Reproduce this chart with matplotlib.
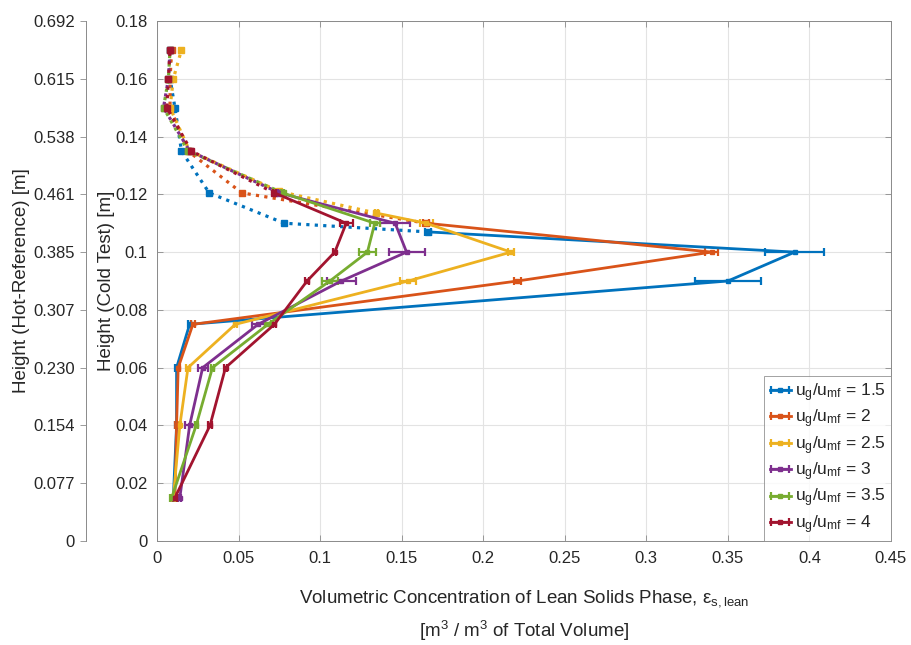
import matplotlib.pyplot as plt
import numpy as np

plt.rcParams['font.family'] = ['Liberation Sans', 'DejaVu Sans']
plt.rcParams['mathtext.fontset'] = 'custom'
plt.rcParams['mathtext.rm'] = 'Liberation Sans'
plt.rcParams['mathtext.it'] = 'Liberation Sans:italic'

ratios = ['1.5', '2', '2.5', '3', '3.5', '4']
colors = ['#0072BD', '#D95319', '#EDB120', '#7E2F8E', '#77AC30', '#A2142F']

# measured points in the bed (solid, with error bars)
bed_y = [
    [0.015, 0.040, 0.060, 0.075, 0.090, 0.100, 0.107],
    [0.015, 0.040, 0.060, 0.075, 0.090, 0.100, 0.110],
    [0.015, 0.040, 0.060, 0.075, 0.090, 0.100, 0.110, 0.1135],
    [0.015, 0.040, 0.060, 0.075, 0.090, 0.100, 0.110, 0.1205],
    [0.015, 0.040, 0.060, 0.075, 0.090, 0.100, 0.110, 0.1205],
    [0.015, 0.040, 0.060, 0.075, 0.090, 0.100, 0.110, 0.1205],
]
bed_x = [
    [0.010, 0.012, 0.012, 0.020, 0.350, 0.391, 0.166],
    [0.011, 0.012, 0.013, 0.022, 0.221, 0.340, 0.165],
    [0.010, 0.014, 0.019, 0.048, 0.154, 0.217, 0.165, 0.1345],
    [0.014, 0.020, 0.028, 0.062, 0.113, 0.153, 0.146, 0.075],
    [0.009, 0.024, 0.034, 0.068, 0.106, 0.129, 0.1335, 0.077],
    [0.011, 0.0325, 0.042, 0.072, 0.092, 0.109, 0.116, 0.072],
]
bed_err = [
    [0.001, 0.001, 0.001, 0.001, 0.020, 0.018, 0.002],
    [0.001, 0.001, 0.001, 0.001, 0.002, 0.004, 0.002],
    [0.001, 0.001, 0.001, 0.001, 0.005, 0.002, 0.004, 0.001],
    [0.001, 0.003, 0.003, 0.004, 0.009, 0.011, 0.009, 0.001],
    [0.001, 0.001, 0.001, 0.002, 0.005, 0.005, 0.003, 0.001],
    [0.001, 0.001, 0.001, 0.001, 0.001, 0.001, 0.004, 0.001],
]

# freeboard points (dotted)
free_y = [
    [0.107, 0.110, 0.1205, 0.135, 0.150, 0.160, 0.170],
    [0.110, 0.1205, 0.135, 0.150, 0.160, 0.170],
    [0.1135, 0.121, 0.135, 0.150, 0.160, 0.170],
    [0.1205, 0.135, 0.150, 0.160, 0.170],
    [0.1205, 0.135, 0.150, 0.160, 0.170],
    [0.1205, 0.135, 0.150, 0.160, 0.170],
]
free_x = [
    [0.166, 0.078, 0.032, 0.015, 0.011, 0.008, 0.008],
    [0.165, 0.052, 0.019, 0.008, 0.008, 0.009],
    [0.1345, 0.075, 0.020, 0.008, 0.010, 0.015],
    [0.075, 0.020, 0.004, 0.007, 0.008],
    [0.077, 0.019, 0.004, 0.007, 0.008],
    [0.072, 0.021, 0.006, 0.007, 0.008],
]

cold_ticks = [0, 0.02, 0.04, 0.06, 0.08, 0.1, 0.12, 0.14, 0.16, 0.18]
cold_labels = ['0', '0.02', '0.04', '0.06', '0.08', '0.1', '0.12', '0.14', '0.16', '0.18']
hot_labels = ['0', '0.077', '0.154', '0.230', '0.307', '0.385', '0.461', '0.538', '0.615', '0.692']
x_ticks = [0, 0.05, 0.1, 0.15, 0.2, 0.25, 0.3, 0.35, 0.4, 0.45]
x_labels = ['0', '0.05', '0.1', '0.15', '0.2', '0.25', '0.3', '0.35', '0.4', '0.45']
hot_top = 0.692

fs = 12
lfs = 13.5
ink = '#262626'
spine = '#8a8a8a'

fig = plt.figure(figsize=(9.11, 6.45), dpi=100)
ax = fig.add_axes([157 / 911, 104 / 645, 734 / 911, 520 / 645])

for i, r in enumerate(ratios):
    c = colors[i]
    ax.plot(free_x[i], free_y[i], ':', color=c, lw=2.3, marker='s', ms=4, zorder=2)
    ax.errorbar(bed_x[i], bed_y[i], xerr=bed_err[i], color=c, lw=2.0, marker='s', ms=3.5,
                capsize=3, elinewidth=1.6, capthick=1.6, zorder=3,
                label=r'$\mathregular{u_g/u_{mf}}$ = ' + r)

ax.set_xlim(0, 0.45)
ax.set_ylim(0, 0.18)
ax.set_xticks(x_ticks, x_labels)
ax.set_yticks(cold_ticks, cold_labels)
ax.grid(True, color='#e3e3e3', lw=0.8)
ax.set_axisbelow(True)
ax.tick_params(direction='in', length=4, width=0.6, color=spine, labelcolor=ink,
               labelsize=fs, top=True, right=True, pad=7)
for s in ax.spines.values():
    s.set_color(spine)
    s.set_linewidth(0.7)

ax.set_ylabel('Height (Cold Test) [m]', fontsize=lfs, color=ink, labelpad=0)
ax.set_xlabel('Volumetric Concentration of Lean Solids Phase, ε$_{\\mathregular{s,lean}}$\n'
              '[m$^{\\mathregular{3}}$ / m$^{\\mathregular{3}}$ of Total Volume]',
              fontsize=lfs, color=ink, labelpad=16, linespacing=1.55)

leg = ax.legend(loc='lower right', borderaxespad=0, fontsize=12.5, frameon=True,
                fancybox=False, edgecolor=spine, handlelength=1.2, handletextpad=0.25,
                labelspacing=0.22, borderpad=0.3)
leg.get_frame().set_linewidth(0.7)
for t in leg.get_texts():
    t.set_color(ink)

# hot-reference height scale, a bare axis to the left
hot = fig.add_axes([86 / 911, 104 / 645, 0.0001, 520 / 645])
hot.set_ylim(0, hot_top)
hot.set_yticks(np.array(cold_ticks) * hot_top / 0.18, hot_labels)
hot.set_xticks([])
hot.patch.set_visible(False)
for k in ['right', 'top', 'bottom']:
    hot.spines[k].set_visible(False)
hot.spines['left'].set_color(spine)
hot.spines['left'].set_linewidth(0.7)
hot.tick_params(axis='y', direction='out', length=4, width=0.6, color=spine,
                labelcolor=ink, labelsize=fs, pad=4)
hot.set_ylabel('Height (Hot-Reference) [m]', fontsize=lfs, color=ink, labelpad=2)

fig.savefig('out.png', dpi=100)
